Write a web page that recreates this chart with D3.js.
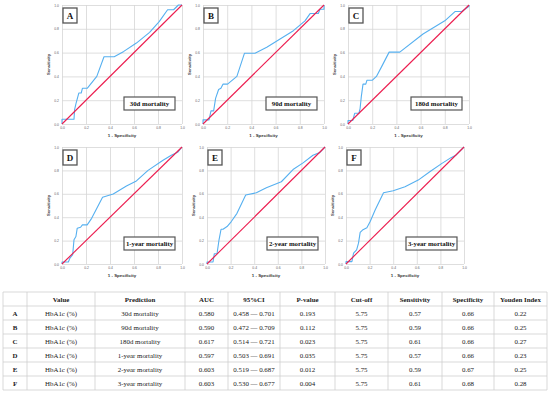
<!DOCTYPE html>
<html>
<head>
<meta charset="utf-8">
<script src="https://cdn.jsdelivr.net/npm/d3@7"></script>
<style>
  body { margin: 0; background: #fff; }
  svg { display: block; }
</style>
</head>
<body>
<svg id="chart" width="550" height="395"></svg>
<script>
// ---- data ----
const panelLetters = ["A", "B", "C", "D", "E", "F"];
const predictions = ["30d mortality", "90d mortality", "180d mortality", "1-year mortality", "2-year mortality", "3-year mortality"];

// ROC points [1 - specificity, sensitivity]
const rocA = [[0,0],[0,0.04],[0.10,0.04],[0.105,0.12],[0.116,0.17],[0.14,0.26],[0.16,0.26],[0.17,0.30],[0.21,0.30],
  [0.29,0.40],[0.35,0.565],[0.435,0.565],[0.515,0.61],[0.62,0.68],[0.73,0.77],[0.81,0.86],[0.88,0.96],[0.93,0.96],[0.97,1],[1,1]];
const rocB = [[0,0],[0,0.035],[0.05,0.035],[0.066,0.11],[0.088,0.11],[0.104,0.215],[0.129,0.29],[0.148,0.30],[0.165,0.335],
  [0.203,0.335],[0.28,0.40],[0.343,0.595],[0.43,0.595],[0.527,0.645],[0.637,0.715],[0.747,0.784],[0.843,0.867],[0.885,0.928],
  [0.953,0.928],[0.967,0.964],[1,0.964],[1,1]];
const rocC = [[0,0],[0,0.03],[0.04,0.03],[0.055,0.09],[0.09,0.09],[0.10,0.13],[0.11,0.23],[0.124,0.335],[0.147,0.335],
  [0.157,0.368],[0.202,0.368],[0.235,0.40],[0.277,0.48],[0.34,0.604],[0.428,0.604],[0.62,0.756],[0.80,0.867],[0.884,0.945],
  [0.94,0.945],[1,0.99],[1,1]];
const rocD = [[0,0],[0,0.017],[0.053,0.017],[0.066,0.05],[0.089,0.08],[0.10,0.207],[0.116,0.235],[0.127,0.306],[0.155,0.314],
  [0.17,0.334],[0.21,0.334],[0.247,0.39],[0.338,0.57],[0.427,0.598],[0.537,0.666],[0.62,0.71],[0.717,0.80],[0.842,0.887],
  [0.911,0.93],[0.967,0.957],[1,1]];
const rocE = [[0,0],[0,0.017],[0.051,0.017],[0.062,0.088],[0.085,0.088],[0.102,0.207],[0.119,0.297],[0.136,0.297],[0.17,0.32],
  [0.206,0.363],[0.254,0.433],[0.328,0.589],[0.418,0.609],[0.503,0.652],[0.63,0.703],[0.729,0.807],[0.814,0.864],[0.898,0.929],
  [0.955,0.952],[1,1]];
const rocF = [[0,0],[0,0.02],[0.05,0.02],[0.064,0.093],[0.09,0.12],[0.106,0.178],[0.12,0.27],[0.14,0.29],[0.177,0.31],
  [0.205,0.363],[0.247,0.462],[0.318,0.609],[0.40,0.626],[0.50,0.66],[0.612,0.717],[0.71,0.788],[0.81,0.858],[0.89,0.909],
  [0.93,0.929],[1,1]];
const rocCurves = [rocA, rocB, rocC, rocD, rocE, rocF];
const reference = [[0,0],[1,1]];
const tickValues = [0, 0.2, 0.4, 0.6, 0.8, 1.0];

// table
const tableHeader = ["", "Value", "Prediction", "AUC", "95%CI", "P-value", "Cut-off", "Sensitivity", "Specificity", "Youden Index"];
const valueName = ["HbA1c (%)", "HbA1c (%)", "HbA1c (%)", "HbA1c (%)", "HbA1c (%)", "HbA1c (%)"];
const auc = ["0.580", "0.590", "0.617", "0.597", "0.603", "0.603"];
const ci95 = ["0.458 \u2014 0.701", "0.472 \u2014 0.709", "0.514 \u2014 0.721", "0.503 \u2014 0.691", "0.519 \u2014 0.687", "0.530 \u2014 0.677"];
const pValues = ["0.193", "0.112", "0.023", "0.035", "0.012", "0.004"];
const cutoffs = ["5.75", "5.75", "5.75", "5.75", "5.75", "5.75"];
const sensitivity = ["0.57", "0.59", "0.61", "0.57", "0.59", "0.61"];
const specificity = ["0.66", "0.66", "0.66", "0.66", "0.67", "0.68"];
const youden = ["0.22", "0.25", "0.27", "0.23", "0.25", "0.28"];

// ---- layout ----
const panels = [
  {x0: 62,  x1: 182, y0: 5,   y1: 124},
  {x0: 203, x1: 324, y0: 5,   y1: 124},
  {x0: 348, x1: 469, y0: 5,   y1: 124},
  {x0: 62,  x1: 182, y0: 147, y1: 264},
  {x0: 207, x1: 325, y0: 147, y1: 264},
  {x0: 346, x1: 464, y0: 147, y1: 264}
];
const colEdges = [3, 27, 95, 185, 228, 280, 335, 388, 442, 494, 547];
const tableTop = 292, rowH = 14;

const serif = "'Liberation Serif', 'Times New Roman', serif";
const sans = "'Liberation Sans', Arial, sans-serif";

const svg = d3.select("#chart");
svg.append("rect").attr("width", 550).attr("height", 395).attr("fill", "#fff");

panels.forEach((p, i) => {
  let x = d3.scaleLinear().domain([0, 1]).range([p.x0, p.x1]),
      y = d3.scaleLinear().domain([0, 1]).range([p.y1, p.y0]);

  let g = svg.append("g").attr("class", "panel-" + panelLetters[i]);

  // grid + ticks
  let gx = g.append("g")
      .attr("transform", `translate(0,${p.y1})`)
      .call(d3.axisBottom(x).tickValues(tickValues).tickFormat(d3.format(".1f"))
        .tickSize(-(p.y1 - p.y0)).tickPadding(3));
  let gy = g.append("g")
      .attr("transform", `translate(${p.x0},0)`)
      .call(d3.axisLeft(y).tickValues(tickValues).tickFormat(d3.format(".1f"))
        .tickSize(-(p.x1 - p.x0)).tickPadding(3));

  [gx, gy].forEach(a => {
    a.select(".domain").remove();
    a.selectAll(".tick line").attr("stroke", "#d6d6d6").attr("stroke-width", 0.8);
    a.selectAll(".tick text").attr("font-size", 3.4).attr("font-family", sans).attr("fill", "#666");
  });

  let line = d3.line().x(d => x(d[0])).y(d => y(d[1]));

  g.append("path")
      .datum(rocCurves[i])
      .attr("d", line)
      .attr("fill", "none")
      .attr("stroke", "#56b0f0")
      .attr("stroke-width", 1.1)
      .attr("stroke-linejoin", "round");

  g.append("path")
      .datum(reference)
      .attr("d", line)
      .attr("fill", "none")
      .attr("stroke", "#ec1d4f")
      .attr("stroke-width", 1.1);

  // axis titles
  g.append("text")
      .attr("transform", `translate(${p.x0 - 12},${(p.y0 + p.y1) / 2}) rotate(-90)`)
      .attr("text-anchor", "middle")
      .attr("font-family", sans).attr("font-weight", "bold")
      .attr("font-size", 4.2).attr("fill", "#333")
      .text("Sensitivity");
  g.append("text")
      .attr("x", (p.x0 + p.x1) / 2).attr("y", p.y1 + 13)
      .attr("text-anchor", "middle")
      .attr("font-family", sans).attr("font-weight", "bold")
      .attr("font-size", 4.4).attr("fill", "#333")
      .text("1 - Specificity");

  // letter box
  g.append("rect")
      .attr("x", p.x0 + 1).attr("y", p.y0 + 3)
      .attr("width", 14).attr("height", 15)
      .attr("fill", "#fff").attr("stroke", "#555").attr("stroke-width", 1.3);
  g.append("text")
      .attr("x", p.x0 + 8).attr("y", p.y0 + 10.8)
      .attr("text-anchor", "middle").attr("dominant-baseline", "central")
      .attr("font-family", serif).attr("font-weight", "bold")
      .attr("font-size", 9).attr("fill", "#111")
      .text(panelLetters[i]);

  // prediction box
  g.append("rect")
      .attr("x", p.x1 - 58).attr("y", p.y1 - 27)
      .attr("width", 51).attr("height", 13)
      .attr("fill", "#fff").attr("stroke", "#555").attr("stroke-width", 1.2);
  g.append("text")
      .attr("x", p.x1 - 32.5).attr("y", p.y1 - 20.3)
      .attr("text-anchor", "middle").attr("dominant-baseline", "central")
      .attr("font-family", serif).attr("font-weight", "bold")
      .attr("font-size", 6.8).attr("fill", "#111")
      .text(predictions[i]);
});

// ---- table ----
let rows = [tableHeader];
panelLetters.forEach((l, i) => {
  rows.push([l, valueName[i], predictions[i], auc[i], ci95[i], pValues[i], cutoffs[i], sensitivity[i], specificity[i], youden[i]]);
});

let tbl = svg.append("g").attr("class", "table");
let tableBottom = tableTop + rows.length * rowH;

rows.forEach((r, ri) => {
  r.forEach((cell, ci) => {
    let cx = (colEdges[ci] + colEdges[ci + 1]) / 2,
        cy = tableTop + ri * rowH + rowH / 2;
    tbl.append("text")
        .attr("x", cx).attr("y", cy)
        .attr("text-anchor", "middle").attr("dominant-baseline", "central")
        .attr("font-family", serif)
        .attr("font-weight", (ri == 0 || ci == 0) ? "bold" : "normal")
        .attr("font-size", 6.9).attr("fill", "#222")
        .text(cell);
  });
});

// grid lines of the table
d3.range(rows.length + 1).forEach(k => {
  tbl.append("line")
      .attr("x1", colEdges[0]).attr("x2", colEdges[colEdges.length - 1])
      .attr("y1", tableTop + k * rowH).attr("y2", tableTop + k * rowH)
      .attr("stroke", "#cfcfcf").attr("stroke-width", 0.8);
});
colEdges.forEach(cx => {
  tbl.append("line")
      .attr("x1", cx).attr("x2", cx)
      .attr("y1", tableTop).attr("y2", tableBottom)
      .attr("stroke", "#cfcfcf").attr("stroke-width", 0.8);
});
</script>
</body>
</html>
